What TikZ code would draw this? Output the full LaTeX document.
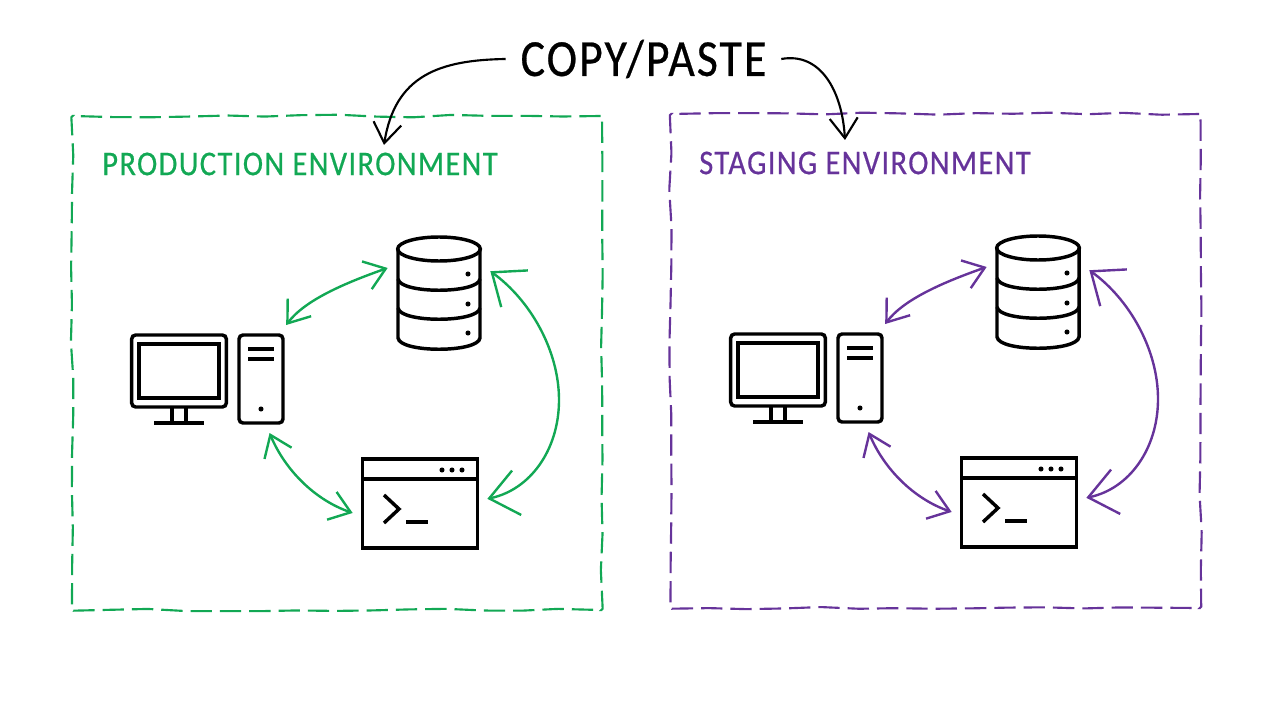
\documentclass[tikz,border=0pt]{standalone}
\usepackage{fontspec}
\newfontfamily\handfont[LetterSpace=4, FakeStretch=0.88, FakeBold=0.5]{Carlito}
\usetikzlibrary{arrows.meta,decorations.pathmorphing}
\definecolor{envgreen}{HTML}{12A854}
\definecolor{envpurple}{HTML}{66339A}
\tikzset{
	pics/envset/.style={code={
		% monitor and tower
		\node[icon, rounded corners=3pt, minimum width=71pt, minimum height=54pt](-monitor) at (179,371){};
		\draw[iconline] (139,344) rectangle (219,398);
		\draw[iconline] (172,407) -- (172,423) (186,407) -- (186,423) (154,423) -- (204,423);
		\node[icon, rounded corners=3pt, minimum width=33pt, minimum height=66pt](-tower) at (261,379){};
		\draw[iconline] (248,349) -- (274,349) (248,359) -- (274,359);
		\fill (261,409) circle (1.9pt);
		% database
		\node[icon, draw=none, minimum width=62pt, minimum height=83pt](-db) at (439,293){};
		\draw[iconline] (439,249) ellipse (31pt and 9pt);
		\draw[iconline] (398,249) -- (398,338) .. controls (400,353) and (478,353) .. (480,338) -- (480,249);
		\draw[iconline] (398,279) .. controls (400,294) and (478,294) .. (480,279);
		\draw[iconline] (398,308) .. controls (400,323) and (478,323) .. (480,308);
		\foreach \y in {274,304,333}{\fill (468,\y) circle (1.9pt);}
		% terminal
		\node[icon, minimum width=86pt, minimum height=67pt](-term) at (420,503.5){};
		\draw[iconline] (363,479) -- (477,479);
		\foreach \x in {442,452,462}{\fill (\x,470) circle (1.9pt);}
		\draw[iconline] (384,495) -- (399,509) -- (384,523);
		\draw[iconline] (406,522) -- (428,522);
		% arrows
		\draw[flow=#1] (-tower.65) .. controls (305,300) and (345,283) .. (-db.154);
		\draw[flow=#1, {Straight Barb[length=21pt,width=34pt]}-{Straight Barb[length=21pt,width=34pt]}]
			(-db.23) .. controls (530,300) and (559,350) .. (559,400) .. controls (559,450) and (530,490) .. (-term.4);
		\draw[flow=#1] (-tower.279) .. controls (285,470) and (315,500) .. (-term.188);
	}},
}
\begin{document}
\begin{tikzpicture}
	[
	x=0.75pt, y=-0.75pt,
	envbox/.style={draw, dashed, dash pattern=on 16pt off 6pt, line width=1.6pt, inner sep=0pt, rounded corners=1pt, minimum width=397.5pt, minimum height=370.5pt, decorate, decoration={random steps, segment length=28pt, amplitude=1pt}},
	envlabel/.style={anchor=west, inner sep=0pt, font=\handfont\fontsize{26}{26}\selectfont},
	icon/.style={draw = black, line width=2.6pt, inner sep=0pt, outer sep=7.5pt},
	iconline/.style={line width=2.6pt},
	flow/.style={draw = #1, line width=1.8pt, {Straight Barb[length=15pt,width=22pt]}-{Straight Barb[length=15pt,width=22pt]}},
	copyarrow/.style={line width=1.6pt, -{Straight Barb[length=15pt,width=21pt]}}
	]
	\useasboundingbox (0,0) rectangle (1280,720);
	
	\node[envbox, draw = envgreen](prodbox) at (337,363){};
	\node[envbox, draw = envpurple](stagbox) at (935.5,361){};
	
	\node[envlabel, text = envgreen](prodlabel) at (102,164){PRODUCTION ENVIRONMENT};
	\node[envlabel, text = envpurple](staglabel) at (699,163){STAGING ENVIRONMENT};
	\node[inner sep=11pt, font=\handfont\fontsize{39}{39}\selectfont](copylabel) at (643.5,59){COPY/PASTE};
	
	\coordinate(prodtip) at (384,145);
	\coordinate(stagtip) at (845,140);
	\draw[copyarrow] (copylabel.west) .. controls (440,60) and (395,75) .. (prodtip);
	\draw[copyarrow] (copylabel.east) .. controls (820,52) and (842,90) .. (stagtip);
	
	\pic(prod) at (0,0) {envset=envgreen};
	\pic(stag) at (599,-1) {envset=envpurple};
\end{tikzpicture}
\end{document}
